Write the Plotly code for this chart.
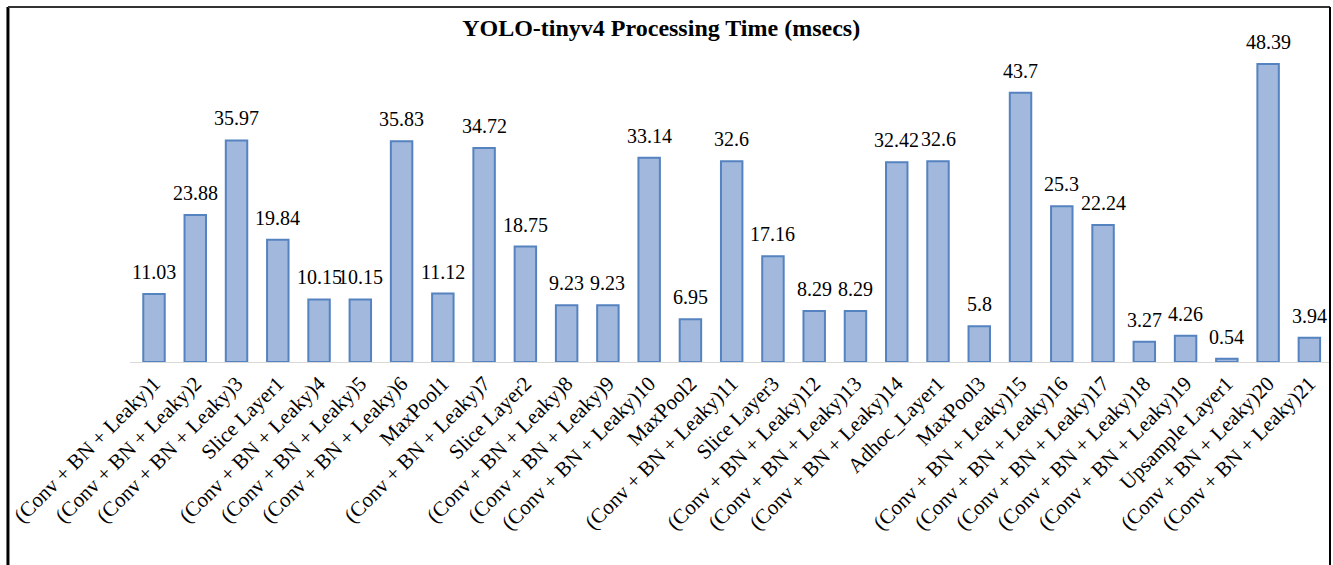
import plotly.graph_objects as go

# Per-layer processing time of YOLO-tinyv4, in milliseconds
layers = [
    "(Conv + BN + Leaky)1", "(Conv + BN + Leaky)2", "(Conv + BN + Leaky)3",
    "Slice Layer1", "(Conv + BN + Leaky)4", "(Conv + BN + Leaky)5",
    "(Conv + BN + Leaky)6", "MaxPool1", "(Conv + BN + Leaky)7",
    "Slice Layer2", "(Conv + BN + Leaky)8", "(Conv + BN + Leaky)9",
    "(Conv + BN + Leaky)10", "MaxPool2", "(Conv + BN + Leaky)11",
    "Slice Layer3", "(Conv + BN + Leaky)12", "(Conv + BN + Leaky)13",
    "(Conv + BN + Leaky)14", "Adhoc_Layer1", "MaxPool3",
    "(Conv + BN + Leaky)15", "(Conv + BN + Leaky)16", "(Conv + BN + Leaky)17",
    "(Conv + BN + Leaky)18", "(Conv + BN + Leaky)19", "Upsample Layer1",
    "(Conv + BN + Leaky)20", "(Conv + BN + Leaky)21",
]
times_ms = [
    11.03, 23.88, 35.97, 19.84, 10.15, 10.15, 35.83, 11.12, 34.72,
    18.75, 9.23, 9.23, 33.14, 6.95, 32.6, 17.16, 8.29, 8.29,
    32.42, 32.6, 5.8, 43.7, 25.3, 22.24, 3.27, 4.26, 0.54, 48.39, 3.94,
]

SERIF = "Liberation Serif"

fig = go.Figure(
    go.Bar(
        x=layers,
        y=times_ms,
        marker=dict(color="#a2b8dc", line=dict(color="#5583c0", width=2)),
        hoverinfo="x+y",
    )
)

# value labels above each bar
for name, v in zip(layers, times_ms):
    fig.add_annotation(
        x=name, y=v, text=f"{v:g}", showarrow=False,
        yanchor="bottom", yshift=9,
        font=dict(family=SERIF, size=20, color="#000000"),
    )

# outer frame of the chart
frame = [
    dict(x0=-0.1017, x1=-0.1017, y0=1.1526, y1=-1.0, w=3, c="#000000"),
    dict(x0=-0.1017, x1=1.0, y0=1.1526, y1=1.1526, w=2, c="#333333"),
    dict(x0=1.0, x1=1.0, y0=1.1526, y1=-1.0, w=2, c="#000000"),
]
for f in frame:
    fig.add_shape(
        type="line", xref="paper", yref="paper",
        x0=f["x0"], x1=f["x1"], y0=f["y0"], y1=f["y1"],
        line=dict(color=f["c"], width=f["w"]),
    )

fig.update_layout(
    width=1333,
    height=565,
    margin=dict(l=130, r=3, t=54, b=203),
    paper_bgcolor="#ffffff",
    plot_bgcolor="#ffffff",
    bargap=0.48,
    showlegend=False,
    font=dict(family=SERIF, color="#000000"),
    title=dict(
        text="<b>YOLO-tinyv4 Processing Time (msecs)</b>",
        x=0.496, xref="container", xanchor="center",
        y=0.951, yref="container", yanchor="middle",
        font=dict(family=SERIF, size=24, color="#000000"),
    ),
    xaxis=dict(
        tickangle=-45,
        tickfont=dict(family=SERIF, size=21, color="#000000"),
        showline=True, linecolor="#d9d9d9", linewidth=1,
        showgrid=False, ticks="",
    ),
    yaxis=dict(
        range=[0, 50], visible=False, showgrid=False, zeroline=False,
    ),
)

fig.write_html("out.html")
